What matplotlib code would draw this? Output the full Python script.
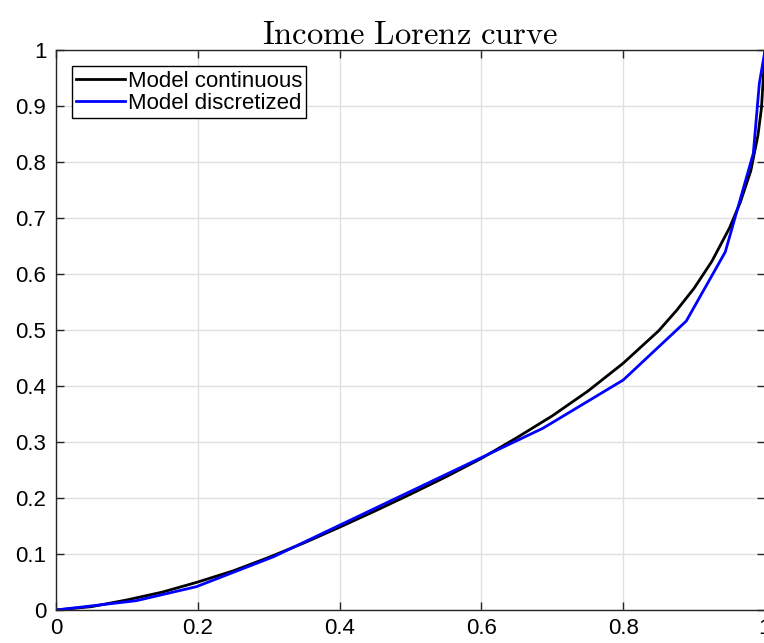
import numpy as np
import matplotlib.pyplot as plt

plt.rcParams['font.family'] = ['Liberation Sans', 'DejaVu Sans']
plt.rcParams['mathtext.fontset'] = 'cm'

# continuous Lorenz curve (population share vs income share)
pop_cont = [0, 0.05, 0.1, 0.15, 0.2, 0.25, 0.3, 0.35, 0.4, 0.45, 0.5, 0.55,
            0.6, 0.65, 0.7, 0.75, 0.8, 0.85, 0.875, 0.9, 0.925, 0.95, 0.965,
            0.98, 0.99, 0.995, 1.0]
inc_cont = [0, 0.006, 0.018, 0.032, 0.05, 0.07, 0.094, 0.12, 0.148, 0.177,
            0.207, 0.238, 0.271, 0.308, 0.347, 0.391, 0.441, 0.499, 0.535,
            0.575, 0.623, 0.683, 0.728, 0.785, 0.848, 0.897, 1.0]

# discretized model, one point per income state
pop_disc = [0, 0.113, 0.198, 0.307, 0.5, 0.687, 0.8, 0.889, 0.944, 0.9835,
            0.992, 1.0]
inc_disc = [0, 0.0166, 0.0417, 0.0953, 0.212, 0.325, 0.411, 0.5165, 0.64,
            0.816, 0.941, 1.0]

xticks = [0, 0.2, 0.4, 0.6, 0.8, 1]
xtick_labels = ['0', '0.2', '0.4', '0.6', '0.8', '1']
yticks = [0, 0.1, 0.2, 0.3, 0.4, 0.5, 0.6, 0.7, 0.8, 0.9, 1]
ytick_labels = ['0', '0.1', '0.2', '0.3', '0.4', '0.5', '0.6', '0.7', '0.8',
                '0.9', '1']

fig = plt.figure(figsize=(7.64, 6.43), dpi=100)
ax = fig.add_axes([0.0733, 0.0513, 0.9280, 0.8702])

ax.plot(pop_cont, inc_cont, color='black', lw=2.0, label='Model continuous')
ax.plot(pop_disc, inc_disc, color='blue', lw=2.0, label='Model discretized')

ax.set_xlim(0, 1)
ax.set_ylim(0, 1)
ax.set_xticks(xticks)
ax.set_xticklabels(xtick_labels)
ax.set_yticks(yticks)
ax.set_yticklabels(ytick_labels)
ax.tick_params(direction='in', length=6, width=1, colors='0.15',
               labelcolor='black', labelsize=16, top=True, right=True)
ax.tick_params(axis='x', pad=6)
ax.tick_params(axis='y', pad=7)
for s in ax.spines.values():
    s.set_color('0.15')
    s.set_linewidth(1)
ax.grid(True, color='0.88', lw=1)
ax.set_axisbelow(True)

ax.set_title(r'$\mathrm{Income\ Lorenz\ curve}$', fontsize=23.5, pad=5)

leg = ax.legend(loc='upper left', bbox_to_anchor=(0.0226, 0.972),
                borderaxespad=0, fontsize=16, frameon=True, fancybox=False,
                framealpha=1, edgecolor='black', handlelength=2.2,
                handletextpad=0.1, borderpad=0.2, labelspacing=0.05)
leg.get_frame().set_linewidth(1)

plt.savefig('out.png', dpi=100)
